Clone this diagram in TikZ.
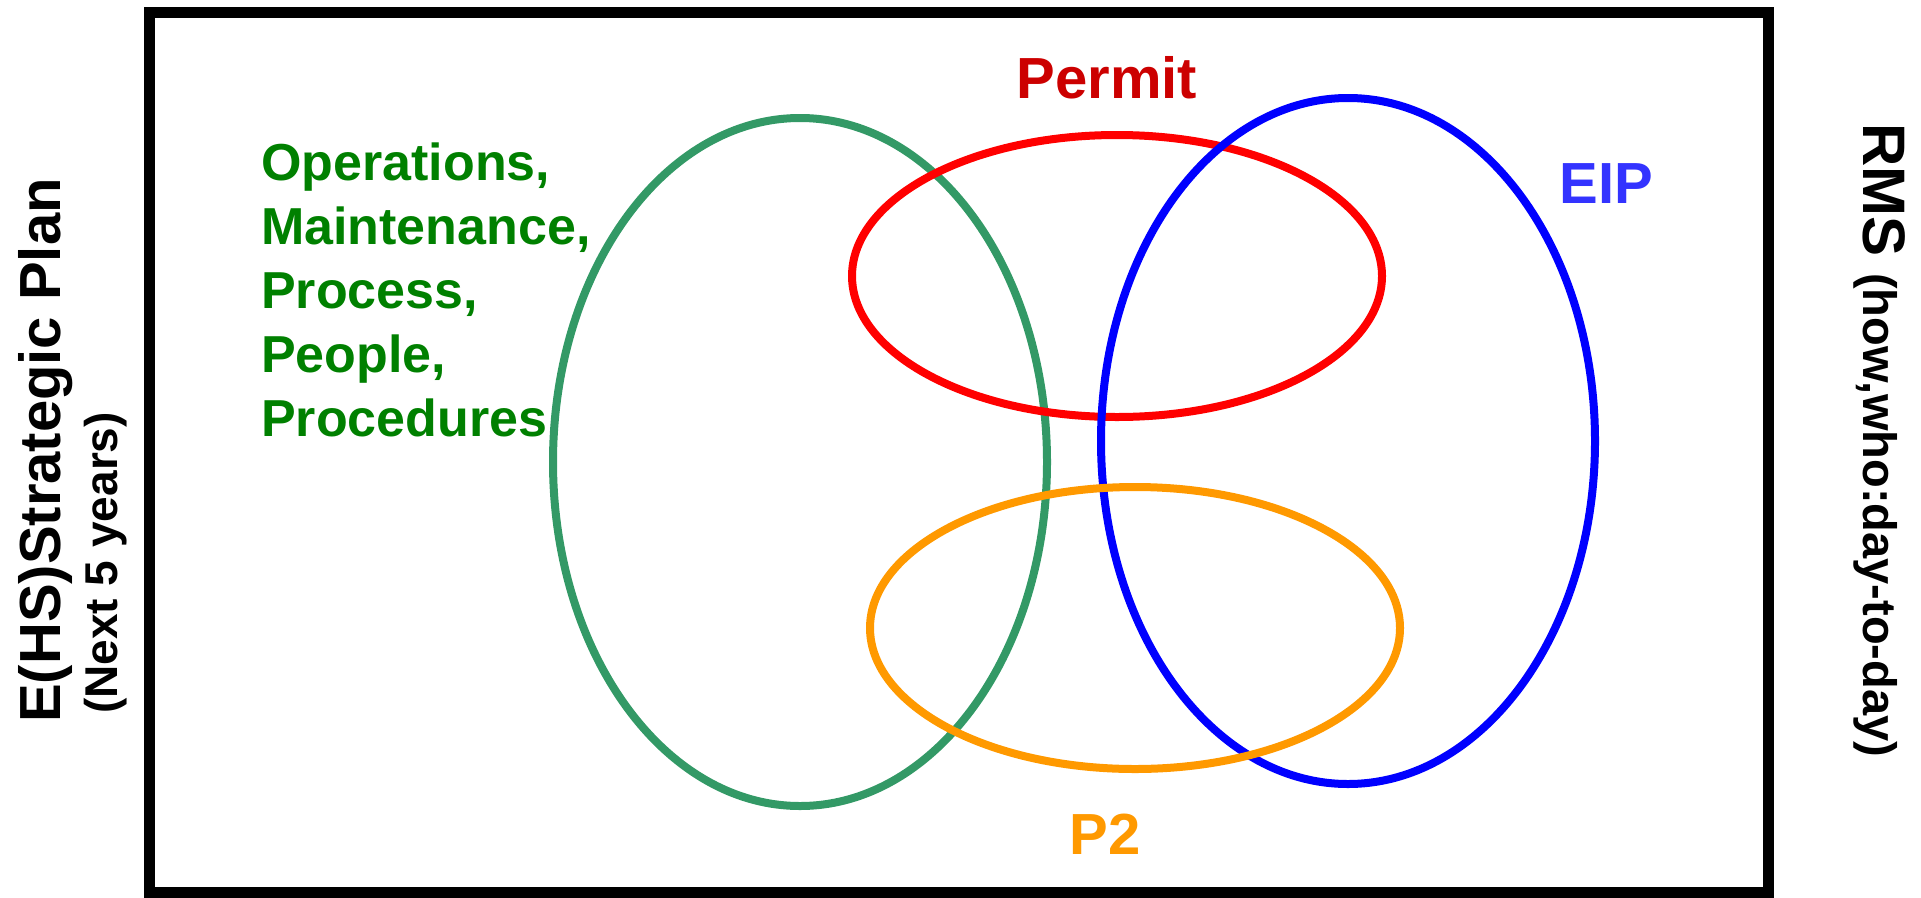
\documentclass[tikz,border=0pt]{standalone}
\usepackage{fontspec}
\setmainfont{Liberation Sans}
\usetikzlibrary{positioning}

\definecolor{opsgreen}{HTML}{008000}
\definecolor{opsring}{HTML}{339966}
\definecolor{permitred}{HTML}{CC0000}
\definecolor{eipblue}{HTML}{3333FF}
\definecolor{ptwo}{HTML}{FF9900}

\begin{document}
\begin{tikzpicture}[x=1pt, y=-1pt,
  ring/.style={line width=8pt},
  lbl/.style={inner sep=0pt, font=\bfseries\fontsize{58}{70}\selectfont}]
\useasboundingbox (0,0) rectangle (1921,897);
\draw[line width=11pt] (149,12) rectangle (1768.5,892);

% the four sets
\draw[ring, opsring] (800,462) ellipse [x radius=247, y radius=344];
\draw[ring, red] (1117,276) ellipse [x radius=265, y radius=141];
\draw[ring, blue] (1348,441) ellipse [x radius=247, y radius=343];
\draw[ring, ptwo] (1135,628) ellipse [x radius=265, y radius=141];

% set labels
\node[lbl, permitred, anchor=base] (permit) at (1107,98) {Permit};
\node[lbl, eipblue, anchor=base east] (eip) at (1653,203) {EIP};
\node[lbl, ptwo, anchor=base] (p2) at (1105,854) {P2};
\node[lbl, opsgreen, align=left, anchor=north west,
  font=\bfseries\fontsize{52}{64}\selectfont] (ops) at (261,143)
  {Operations,\\Maintenance,\\Process,\\People,\\Procedures};

% side captions
\node[lbl, rotate=90, anchor=base west] (plan) at (60,723) {E(HS)Strategic Plan};
\node[lbl, rotate=90, anchor=base west, font=\bfseries\fontsize{46}{56}\selectfont]
  (horizon) at (117,714) {(Next 5 years)};
\node[lbl, rotate=-90, anchor=base west] (rms) at (1863,123)
  {{\fontsize{60}{72}\selectfont RMS }{\fontsize{47}{56}\selectfont(how,who:day-to-day)}};
\end{tikzpicture}
\end{document}
